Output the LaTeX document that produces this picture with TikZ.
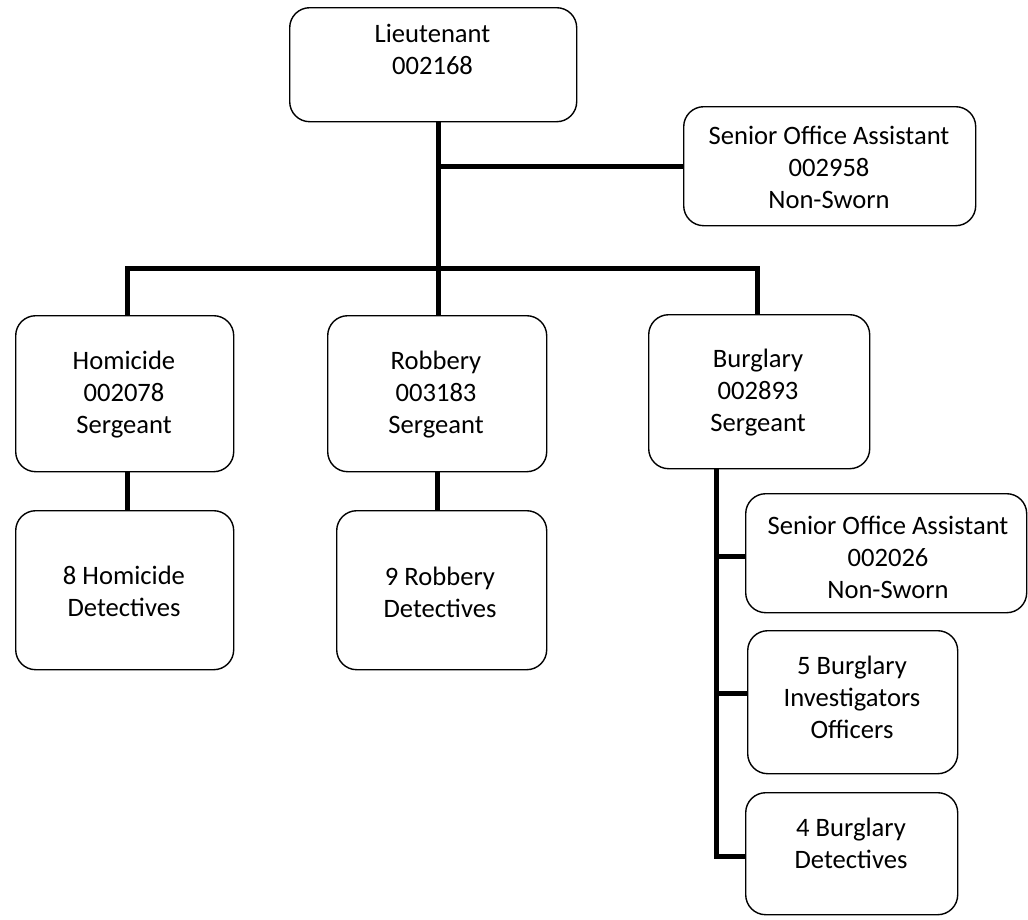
\documentclass[tikz,border=0pt]{standalone}
\usepackage{fontspec}
\setmainfont{Carlito}
\begin{document}
\begin{tikzpicture}[x=1pt,y=-1pt,
  box/.style={draw, line width=1.4pt, rounded corners=20pt, anchor=north west, inner sep=0pt},
  txt/.style={align=center, font=\fontsize{26.6}{32}\selectfont, inner sep=0pt},
  conn/.style={line width=5pt, line join=miter}]
\useasboundingbox (0,0) rectangle (1028,919);
% boxes
\node[box, minimum width=287pt, minimum height=114pt] (lt)   at (289,7)   {};
\node[box, minimum width=292pt, minimum height=119pt] (soa1) at (683,106) {};
\node[box, minimum width=218pt, minimum height=156pt] (hom)  at (15,315)  {};
\node[box, minimum width=219pt, minimum height=156pt] (rob)  at (327,315) {};
\node[box, minimum width=221pt, minimum height=154pt] (bur)  at (648,314) {};
\node[box, minimum width=218pt, minimum height=159pt] (homd) at (15,510)  {};
\node[box, minimum width=210pt, minimum height=159pt] (robd) at (336,510) {};
\node[box, minimum width=281pt, minimum height=119pt] (soa2) at (745,493) {};
\node[box, minimum width=210pt, minimum height=143pt] (bi)   at (747,630) {};
\node[box, minimum width=212pt, minimum height=122pt] (bd)   at (745,792) {};
% texts
\node[txt] (ltT)   at (432.5,49.5) {Lieutenant\\002168};
\node[txt] (soa1T) at (829,167) {Senior Office Assistant\\002958\\Non-Sworn};
\node[txt] (homT)  at (124,395) {Homicide\\002078\\Sergeant};
\node[txt] (robT)  at (436,395) {Robbery\\003183\\Sergeant};
\node[txt] (burT)  at (758,393) {Burglary\\002893\\Sergeant};
\node[txt] (homdT) at (124,591) {8 Homicide\\Detectives};
\node[txt] (robdT) at (440,592) {9 Robbery\\Detectives};
\node[txt] (soa2T) at (888,557) {Senior Office Assistant\\002026\\Non-Sworn};
\node[txt] (biT)   at (852,697) {5 Burglary\\Investigators\\Officers};
\node[txt] (bdT)   at (851,843) {4 Burglary\\Detectives};
% junction coordinates
\coordinate (j1) at (438,166);
\coordinate (barL) at (127,268);
\coordinate (barR) at (757,268);
\coordinate (rv) at (437,490);
\coordinate (b1) at (716,556);
\coordinate (b2) at (716,693);
\coordinate (bv) at (716,856);
% connectors
\draw[conn] (lt.south -| j1) -- (rob.north -| j1);
\draw[conn] (j1) -- (soa1.west |- j1);
\draw[conn] (hom.north -| barL) -- (barL) -- (barR) -- (bur.north -| barR);
\draw[conn] (hom.south -| barL) -- (homd.north -| barL);
\draw[conn] (rob.south -| rv) -- (robd.north -| rv);
\draw[conn] (bur.south -| bv) -- (bv) -- (bd.west |- bv);
\draw[conn] (b1) -- (soa2.west |- b1);
\draw[conn] (b2) -- (bi.west |- b2);
\end{tikzpicture}
\end{document}
